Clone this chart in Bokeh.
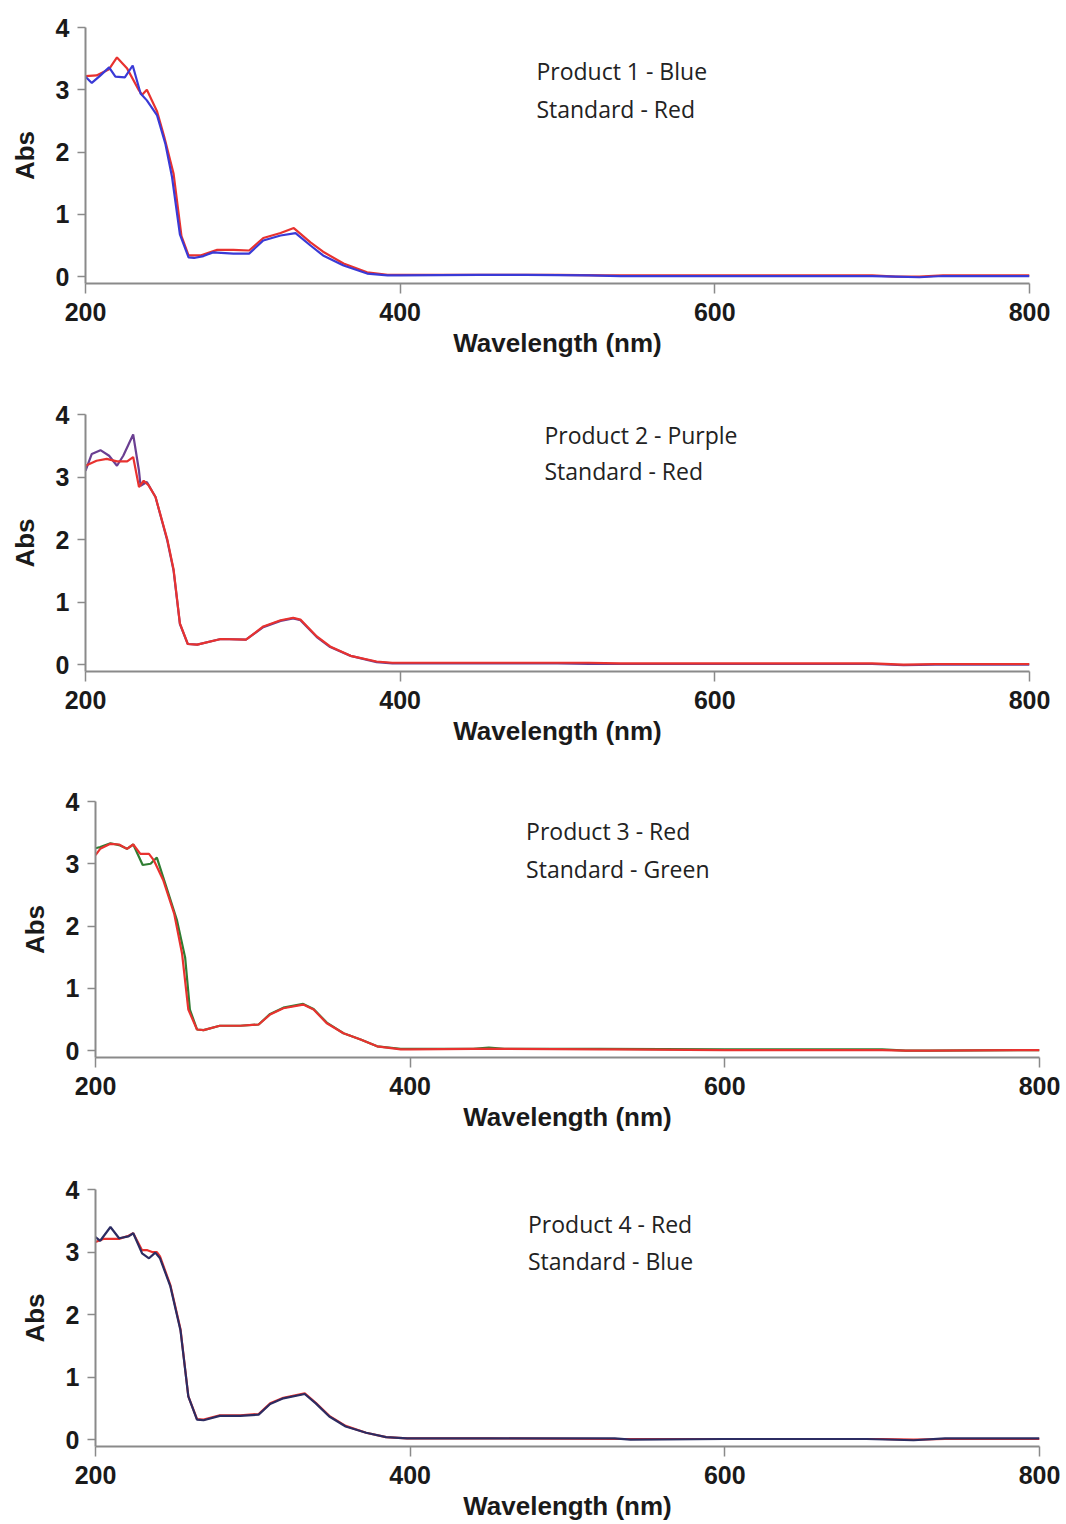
from bokeh.plotting import figure
from bokeh.layouts import column
from bokeh.models import Label, FixedTicker, Range1d
from bokeh.embed import file_html
from bokeh.resources import INLINE

# ---------------- data ----------------
x_ticks = [200, 400, 600, 800]
y_ticks = [0, 1, 2, 3, 4]

# Panel 1: Product 1 (blue) vs Standard (red)
p1_prod_wl = [200, 204, 209, 215, 219, 225, 230, 235, 239, 245.5, 250.8, 255, 260, 265.5, 269, 275, 281, 294, 304, 313, 324, 333.5, 343, 351, 364, 379, 392, 400, 450, 480, 520, 540, 600, 700, 715, 730, 745, 800]
p1_prod_abs = [3.21, 3.11, 3.22, 3.36, 3.21, 3.20, 3.39, 2.94, 2.83, 2.59, 2.13, 1.60, 0.68, 0.31, 0.30, 0.33, 0.39, 0.37, 0.37, 0.58, 0.66, 0.70, 0.50, 0.34, 0.18, 0.05, 0.02, 0.02, 0.03, 0.03, 0.02, 0.01, 0.01, 0.01, 0.0, -0.01, 0.01, 0.01]
p1_std_wl = [200, 207, 215, 220, 226.5, 234, 236, 239, 245.5, 250, 256, 261, 265.5, 273, 283.7, 294, 304, 313, 324, 332.4, 343, 351, 364, 379, 392, 400, 450, 470, 500, 530, 600, 700, 715, 730, 745, 800]
p1_std_abs = [3.22, 3.23, 3.33, 3.52, 3.34, 2.99, 2.92, 3.00, 2.65, 2.25, 1.65, 0.65, 0.34, 0.34, 0.43, 0.43, 0.42, 0.62, 0.70, 0.78, 0.55, 0.40, 0.21, 0.07, 0.03, 0.03, 0.03, 0.03, 0.03, 0.02, 0.02, 0.02, 0.0, 0.0, 0.02, 0.02]

# Panel 2: Product 2 (purple) vs Standard (red)
p2_prod_wl = [200, 204, 209.5, 215, 220, 224, 230.3, 234, 235, 239, 244.5, 252, 256, 260, 265, 271, 286, 302, 313, 324, 332, 336.6, 347, 355.5, 368.5, 385, 395, 400, 450, 500, 520, 600, 700, 720, 740, 800]
p2_prod_abs = [3.10, 3.37, 3.43, 3.34, 3.18, 3.34, 3.68, 3.10, 2.86, 2.92, 2.68, 1.98, 1.50, 0.65, 0.33, 0.32, 0.41, 0.40, 0.60, 0.70, 0.74, 0.71, 0.44, 0.28, 0.14, 0.04, 0.02, 0.02, 0.02, 0.02, 0.01, 0.01, 0.01, -0.01, 0.0, 0.0]
p2_std_wl = [200, 207, 213.5, 220, 226.5, 230.3, 232, 234, 237, 240, 244.5, 252, 256, 260, 265, 271, 286, 302, 313, 324, 332, 336.6, 347, 355.5, 368.5, 385, 395, 400, 450, 520, 540, 600, 700, 720, 740, 800]
p2_std_abs = [3.18, 3.26, 3.29, 3.25, 3.25, 3.32, 3.10, 2.84, 2.94, 2.87, 2.68, 2.00, 1.52, 0.66, 0.33, 0.32, 0.41, 0.40, 0.61, 0.71, 0.75, 0.72, 0.45, 0.29, 0.14, 0.05, 0.03, 0.03, 0.03, 0.03, 0.02, 0.02, 0.02, 0.0, 0.01, 0.01]

# Panel 3: Product 3 (red) vs Standard (green)
p3_prod_wl = [200, 203, 209.5, 215, 220, 224, 228.5, 234, 237, 243, 250, 255, 259, 264.5, 268.7, 279, 292, 303.7, 311, 319.4, 332, 338.6, 347, 357.6, 368.5, 379, 394, 400, 440, 460, 520, 530, 600, 700, 715, 730, 800]
p3_prod_abs = [3.14, 3.24, 3.32, 3.31, 3.24, 3.31, 3.16, 3.16, 3.06, 2.74, 2.20, 1.56, 0.66, 0.34, 0.33, 0.40, 0.40, 0.42, 0.58, 0.68, 0.74, 0.66, 0.44, 0.28, 0.18, 0.07, 0.02, 0.02, 0.03, 0.03, 0.02, 0.02, 0.01, 0.01, 0.0, 0.0, 0.01]
p3_std_wl = [200, 203, 209.5, 215, 220, 224, 230, 235, 239, 245, 251.7, 257, 260, 264.5, 268.7, 279, 292, 303.7, 311, 319.4, 332, 338.6, 347, 357.6, 368.5, 379, 394, 400, 440, 450, 460, 520, 600, 700, 715, 730, 800]
p3_std_abs = [3.25, 3.27, 3.33, 3.30, 3.24, 3.31, 2.98, 3.00, 3.10, 2.63, 2.10, 1.49, 0.66, 0.34, 0.33, 0.40, 0.40, 0.42, 0.59, 0.69, 0.75, 0.67, 0.45, 0.28, 0.18, 0.07, 0.03, 0.03, 0.03, 0.05, 0.03, 0.03, 0.02, 0.02, 0.0, 0.0, 0.01]

# Panel 4: Product 4 (red) vs Standard (blue)
p4_prod_wl = [200, 205, 209.5, 215, 221, 224, 229.6, 233, 236, 239, 241, 247.6, 254, 259, 264.5, 268.7, 279, 292, 303.7, 311, 319.4, 333, 340, 348.6, 359, 372, 384.7, 398, 400, 450, 530, 600, 700, 720, 740, 800]
p4_prod_abs = [3.16, 3.21, 3.21, 3.21, 3.26, 3.30, 3.03, 3.03, 3.00, 3.00, 2.93, 2.47, 1.77, 0.69, 0.33, 0.32, 0.39, 0.39, 0.41, 0.58, 0.67, 0.74, 0.59, 0.38, 0.22, 0.11, 0.04, 0.02, 0.02, 0.02, 0.01, 0.01, 0.01, 0.0, 0.01, 0.01]
p4_std_wl = [200, 203, 209.5, 215, 221, 224, 229.6, 234, 238, 241, 247.6, 254, 259, 264.5, 268.7, 279, 292, 303.7, 311, 319.4, 333, 340, 348.6, 359, 372, 384.7, 398, 400, 450, 530, 540, 600, 690, 720, 740, 800]
p4_std_abs = [3.24, 3.18, 3.40, 3.22, 3.25, 3.30, 2.98, 2.90, 2.99, 2.90, 2.45, 1.75, 0.69, 0.32, 0.31, 0.38, 0.38, 0.40, 0.57, 0.66, 0.73, 0.58, 0.37, 0.21, 0.11, 0.04, 0.02, 0.02, 0.02, 0.02, 0.0, 0.01, 0.01, -0.01, 0.02, 0.02]

captions = [
    ("Product 1 - Blue", "Standard - Red"),
    ("Product 2 - Purple", "Standard - Red"),
    ("Product 3 - Red", "Standard - Green"),
    ("Product 4 - Red", "Standard - Blue"),
]

RED = "#e8322f"
BLUE = "#3a3ad6"
PURPLE = "#6b3f92"
GREEN = "#2f7d32"
NAVY = "#2c2c62"

AXIS_GREY = "#8a8a8a"
FONT = "Liberation Sans"

panels = [
    dict(series=[(p1_std_wl, p1_std_abs, RED), (p1_prod_wl, p1_prod_abs, BLUE)],
         cap=(486.6, 3.30, 2.69), h=388, top=27, bottom=105, shift=0),
    dict(series=[(p2_prod_wl, p2_prod_abs, PURPLE), (p2_std_wl, p2_std_abs, RED)],
         cap=(491.7, 3.68, 3.10), h=388, top=26, bottom=105, shift=0),
    dict(series=[(p3_std_wl, p3_std_abs, GREEN), (p3_prod_wl, p3_prod_abs, RED)],
         cap=(473.7, 3.53, 2.92), h=388, top=25, bottom=107, shift=10),
    dict(series=[(p4_prod_wl, p4_prod_abs, RED), (p4_std_wl, p4_std_abs, NAVY)],
         cap=(474.9, 3.45, 2.86), h=360, top=25, bottom=78, shift=10),
]

figs = []
for i, pn in enumerate(panels):
    p = figure(width=1056, height=pn["h"], output_backend="svg", toolbar_location=None,
               x_range=Range1d(200, 800), y_range=Range1d(-0.11, 4.0),
               min_border_top=pn["top"], min_border_bottom=pn["bottom"],
               min_border_left=85, min_border_right=27)
    p.margin = (0, 10 - pn["shift"], 0, pn["shift"])
    p.outline_line_color = None
    p.grid.visible = False
    p.background_fill_color = "white"
    p.border_fill_color = "white"

    for wl, ab, col in pn["series"]:
        p.line(wl, ab, line_color=col, line_width=2.2)

    p.xaxis.ticker = FixedTicker(ticks=x_ticks)
    p.yaxis.ticker = FixedTicker(ticks=y_ticks)
    p.xaxis.axis_label = "Wavelength (nm)"
    p.yaxis.axis_label = "Abs"
    for ax in (p.xaxis, p.yaxis):
        ax.axis_line_color = AXIS_GREY
        ax.axis_line_width = 2
        ax.major_tick_line_color = AXIS_GREY
        ax.major_tick_line_width = 1.5
        ax.major_tick_in = 0
        ax.minor_tick_out = 0
        ax.minor_tick_in = 0
        ax.major_label_text_font = FONT
        ax.major_label_text_font_style = "bold"
        ax.major_label_text_font_size = "25px"
        ax.major_label_text_color = "#1a1a1a"
        ax.axis_label_text_font = FONT
        ax.axis_label_text_font_style = "bold"
        ax.axis_label_text_font_size = "26px"
        ax.axis_label_text_color = "#1a1a1a"
    p.xaxis.major_tick_out = 10
    p.yaxis.major_tick_out = 8
    p.xaxis.major_label_standoff = 9
    p.yaxis.major_label_standoff = 8
    p.xaxis.axis_label_standoff = 4
    p.yaxis.axis_label_standoff = 13

    cx, cy1, cy2 = pn["cap"]
    l1, l2 = captions[i]
    for txt, cy in ((l1, cy1), (l2, cy2)):
        p.add_layout(Label(x=cx, y=cy, text=txt, text_font="Open Sans", text_font_size="23px",
                           text_baseline="middle", text_align="left", text_color="#222222"))
    figs.append(p)

layout = column(*figs, spacing=0)
open("out.html", "w").write(file_html(layout, INLINE))
